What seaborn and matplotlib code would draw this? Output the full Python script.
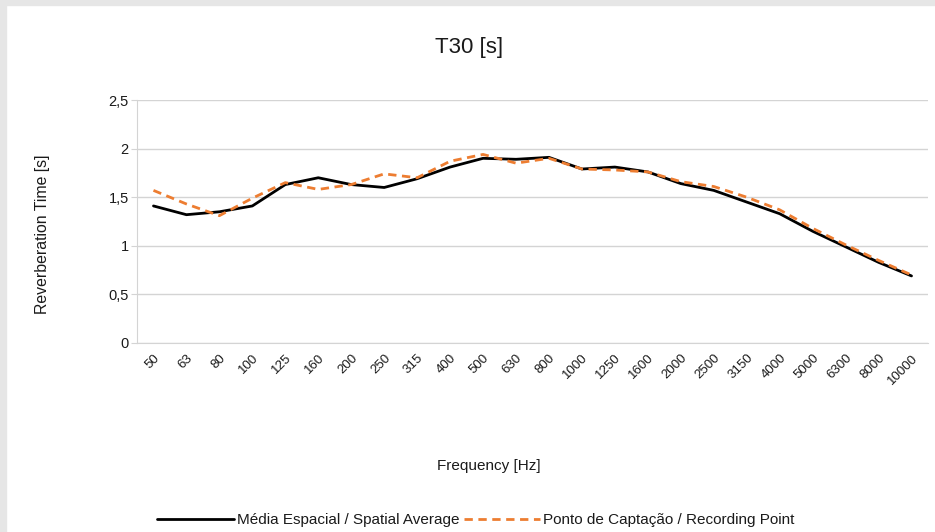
import pandas as pd
import seaborn as sns
import matplotlib.pyplot as plt
from matplotlib.patches import Rectangle
from matplotlib.ticker import FuncFormatter

freqs = ["50", "63", "80", "100", "125", "160", "200", "250", "315", "400", "500", "630",
         "800", "1000", "1250", "1600", "2000", "2500", "3150", "4000", "5000", "6300",
         "8000", "10000"]
spatial_avg = [1.41, 1.32, 1.35, 1.41, 1.63, 1.70, 1.63, 1.60, 1.69, 1.81, 1.90, 1.89,
               1.91, 1.79, 1.81, 1.76, 1.64, 1.57, 1.45, 1.33, 1.15, 0.99, 0.83, 0.69]
recording_pt = [1.57, 1.43, 1.31, 1.49, 1.65, 1.58, 1.63, 1.74, 1.70, 1.87, 1.94, 1.85,
                1.90, 1.79, 1.78, 1.76, 1.66, 1.61, 1.50, 1.37, 1.18, 1.01, 0.85, 0.70]
s1 = "Média Espacial / Spatial Average"
s2 = "Ponto de Captação / Recording Point"

df = pd.DataFrame({
    "Frequency": freqs * 2,
    "T30": spatial_avg + recording_pt,
    "Series": [s1] * len(freqs) + [s2] * len(freqs),
})

sns.set_style("white")
plt.rcParams["font.family"] = ["Liberation Sans", "DejaVu Sans"]
txt = "#1a1a1a"

fig = plt.figure(figsize=(9.35, 5.32), dpi=100)
# light grey screenshot frame on left/top
fig.patches.append(Rectangle((0, 0), 6 / 935, 1, transform=fig.transFigure,
                             color="#e6e6e6", zorder=0))
fig.patches.append(Rectangle((0, 1 - 5 / 532), 1, 5 / 532, transform=fig.transFigure,
                             color="#e6e6e6", zorder=0))

ax = fig.add_axes([137 / 935, 1 - 343 / 532, (928 - 137) / 935, (343 - 100) / 532])
sns.lineplot(data=df, x="Frequency", y="T30", hue="Series", style="Series",
             palette={s1: "black", s2: "#ED7D31"},
             dashes={s1: "", s2: (3, 2)}, linewidth=2.0, ax=ax, sort=False)

ax.set_xlim(-0.5, len(freqs) - 0.5)
ax.set_ylim(0, 2.5)
ax.set_yticks([0, 0.5, 1, 1.5, 2, 2.5])
ax.yaxis.set_major_formatter(FuncFormatter(lambda v, p: f"{v:g}".replace(".", ",")))
ax.grid(axis="y", color="#d4d4d4", linewidth=1)
ax.set_axisbelow(True)
for side in ["top", "right"]:
    ax.spines[side].set_visible(False)
ax.spines["left"].set_color("#d4d4d4")
ax.spines["bottom"].set_color("#d4d4d4")
ax.tick_params(axis="y", left=True, length=4, color="#d4d4d4", labelsize=10.5,
               labelcolor=txt, pad=2)
ax.tick_params(axis="x", bottom=False, labelsize=9.5, labelcolor=txt, pad=3)
plt.setp(ax.get_xticklabels(), rotation=45, ha="right", rotation_mode="anchor")

ax.set_xlabel("")
ax.set_ylabel("")
fig.text(43 / 935, 1 - 234 / 532, "Reverberation Time [s]", rotation=90,
         ha="center", va="center", fontsize=11.4, color=txt)
fig.text(489 / 935, 1 - 466 / 532, "Frequency [Hz]", ha="center", va="center",
         fontsize=11, color=txt)
fig.text(469 / 935, 1 - 47 / 532, "T30 [s]", ha="center", va="center",
         fontsize=16, color=txt)

handles, labels = ax.get_legend_handles_labels()
ax.legend(handles, labels, loc="center", bbox_to_anchor=(476 / 935, 1 - 520 / 532),
          bbox_transform=fig.transFigure, ncol=2, frameon=False, fontsize=11,
          handlelength=5.0, handletextpad=0.2, columnspacing=0.3, labelcolor=txt)

fig.savefig("out.png", dpi=100, facecolor="white")
